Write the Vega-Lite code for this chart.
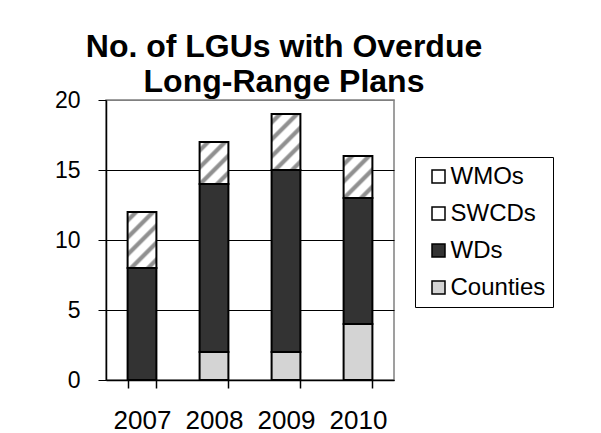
{
  "$schema": "https://vega.github.io/schema/vega-lite/v6.json",
  "autosize": "none",
  "width": 288,
  "height": 280,
  "padding": {"left": 106, "top": 100, "right": 207, "bottom": 53},
  "background": "white",
  "config": {
    "view": {"stroke": "#808080", "strokeWidth": 1.5},
    "font": "Liberation Sans"
  },
  "title": {
    "text": ["No. of LGUs with Overdue", "Long-Range Plans"],
    "font": "Liberation Sans",
    "fontSize": 32,
    "fontWeight": "bold",
    "color": "black",
    "anchor": "middle",
    "frame": "group",
    "dx": 34,
    "lineHeight": 35,
    "offset": -10
  },
  "data": {
    "values": [
      {"year": "2007", "type": "Counties", "count": 0},
      {"year": "2007", "type": "SWCDs", "count": 0},
      {"year": "2007", "type": "WDs", "count": 8},
      {"year": "2007", "type": "WMOs", "count": 4},
      {"year": "2008", "type": "Counties", "count": 2},
      {"year": "2008", "type": "SWCDs", "count": 0},
      {"year": "2008", "type": "WDs", "count": 12},
      {"year": "2008", "type": "WMOs", "count": 3},
      {"year": "2009", "type": "Counties", "count": 2},
      {"year": "2009", "type": "SWCDs", "count": 0},
      {"year": "2009", "type": "WDs", "count": 13},
      {"year": "2009", "type": "WMOs", "count": 4},
      {"year": "2010", "type": "Counties", "count": 4},
      {"year": "2010", "type": "SWCDs", "count": 0},
      {"year": "2010", "type": "WDs", "count": 9},
      {"year": "2010", "type": "WMOs", "count": 3}
    ]
  },
  "mark": {"type": "bar", "stroke": "black", "strokeWidth": 2},
  "encoding": {
    "x": {
      "field": "year",
      "type": "nominal",
      "scale": {"paddingInner": 0.6, "paddingOuter": 0.3},
      "axis": {
        "title": null,
        "labelAngle": 0,
        "tickBand": "extent",
        "domainColor": "black",
        "domainWidth": 1.5,
        "tickColor": "black",
        "tickWidth": 1.5,
        "tickSize": 8,
        "labelFont": "Liberation Sans",
        "labelFontSize": 26,
        "labelColor": "black",
        "labelPadding": 19
      }
    },
    "y": {
      "field": "count",
      "type": "quantitative",
      "stack": "zero",
      "scale": {"domain": [0, 20], "nice": false},
      "axis": {
        "title": null,
        "values": [0, 5, 10, 15, 20],
        "grid": true,
        "gridColor": {"condition": {"test": "datum.value === 20", "value": "#808080"}, "value": "black"},
        "gridWidth": 1,
        "domainColor": "black",
        "domainWidth": 1.5,
        "tickColor": "black",
        "tickSize": 8,
        "labelFont": "Liberation Sans",
        "labelFontSize": 23,
        "labelColor": "black",
        "labelPadding": 18
      }
    },
    "order": {"field": "type", "type": "nominal", "sort": "ascending"},
    "fill": {
      "field": "type",
      "type": "nominal",
      "scale": {
        "domain": ["WMOs", "SWCDs", "WDs", "Counties"],
        "range": ["#ffffff", "#ffffff", "#333333", "#d4d4d4"]
      },
      "legend": {
        "orient": "none",
        "legendX": 309,
        "legendY": 57,
        "title": null,
        "strokeColor": "black",
        "fillColor": "white",
        "padding": 7.5,
        "symbolType": "square",
        "symbolSize": 169,
        "symbolStrokeColor": "black",
        "symbolStrokeWidth": 1.5,
        "symbolOffset": 4,
        "labelFont": "Liberation Sans",
        "labelFontSize": 24,
        "labelColor": "black",
        "labelOffset": 0,
        "rowPadding": 13
      },
      "condition": [
        {
          "test": "datum.type === 'WMOs' && datum.count === 4",
          "value": {
            "gradient": "linear",
            "x1": 0, "y1": 0, "x2": 0.741, "y2": 1.441,
            "stops": [
              {"offset": 0.0417, "color": "#ffffff"},
              {"offset": 0.0667, "color": "#909090"},
              {"offset": 0.1, "color": "#909090"},
              {"offset": 0.125, "color": "#ffffff"},
              {"offset": 0.2083, "color": "#ffffff"},
              {"offset": 0.2333, "color": "#909090"},
              {"offset": 0.2667, "color": "#909090"},
              {"offset": 0.2917, "color": "#ffffff"},
              {"offset": 0.375, "color": "#ffffff"},
              {"offset": 0.4, "color": "#909090"},
              {"offset": 0.4333, "color": "#909090"},
              {"offset": 0.4583, "color": "#ffffff"},
              {"offset": 0.5417, "color": "#ffffff"},
              {"offset": 0.5667, "color": "#909090"},
              {"offset": 0.6, "color": "#909090"},
              {"offset": 0.625, "color": "#ffffff"},
              {"offset": 0.7083, "color": "#ffffff"},
              {"offset": 0.7333, "color": "#909090"},
              {"offset": 0.7667, "color": "#909090"},
              {"offset": 0.7917, "color": "#ffffff"},
              {"offset": 0.875, "color": "#ffffff"},
              {"offset": 0.9, "color": "#909090"},
              {"offset": 0.9333, "color": "#909090"},
              {"offset": 0.9583, "color": "#ffffff"}
            ]
          }
        },
        {
          "test": "datum.type === 'WMOs'",
          "value": {
            "gradient": "linear",
            "x1": 0, "y1": 0, "x2": 0.944, "y2": 1.377,
            "stops": [
              {"offset": 0.05, "color": "#ffffff"},
              {"offset": 0.08, "color": "#909090"},
              {"offset": 0.12, "color": "#909090"},
              {"offset": 0.15, "color": "#ffffff"},
              {"offset": 0.25, "color": "#ffffff"},
              {"offset": 0.28, "color": "#909090"},
              {"offset": 0.32, "color": "#909090"},
              {"offset": 0.35, "color": "#ffffff"},
              {"offset": 0.45, "color": "#ffffff"},
              {"offset": 0.48, "color": "#909090"},
              {"offset": 0.52, "color": "#909090"},
              {"offset": 0.55, "color": "#ffffff"},
              {"offset": 0.65, "color": "#ffffff"},
              {"offset": 0.68, "color": "#909090"},
              {"offset": 0.72, "color": "#909090"},
              {"offset": 0.75, "color": "#ffffff"},
              {"offset": 0.85, "color": "#ffffff"},
              {"offset": 0.88, "color": "#909090"},
              {"offset": 0.92, "color": "#909090"},
              {"offset": 0.95, "color": "#ffffff"}
            ]
          }
        }
      ]
    }
  }
}
